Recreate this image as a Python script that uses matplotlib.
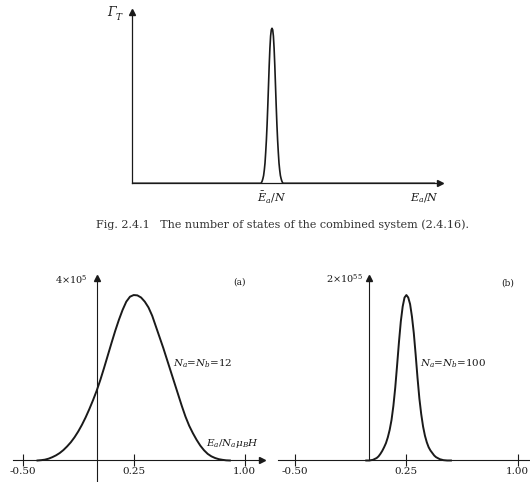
import numpy as np
import matplotlib
matplotlib.use('Agg')
import matplotlib.pyplot as plt

plt.rcParams['font.family'] = 'DejaVu Serif'
plt.rcParams['mathtext.fontset'] = 'dejavuserif'

W, H = 530, 482
ink = '#1a1a1a'

# top panel: sharp peak of Gamma_T, x in arbitrary units (peak at Ea/N)
top_x = [0.00, 0.46, 0.4625, 0.465, 0.4675, 0.47, 0.4725, 0.475, 0.4775,
         0.48, 0.4825, 0.485, 0.4875, 0.49, 0.4925, 0.495, 0.4975, 0.50,
         0.5025, 0.505, 0.5075, 0.51, 0.5125, 0.515, 0.5175, 0.52, 0.5225,
         0.525, 0.5275, 0.53, 0.5325, 0.535, 0.5375, 0.54, 1.08]
top_y = [0.0, 0.0, 0.005, 0.015, 0.03, 0.05, 0.085, 0.13, 0.20,
         0.28, 0.38, 0.50, 0.63, 0.76, 0.87, 0.95, 0.99, 1.0,
         0.99, 0.95, 0.87, 0.76, 0.63, 0.50, 0.38, 0.28, 0.20,
         0.13, 0.085, 0.05, 0.03, 0.015, 0.005, 0.0, 0.0]

# (a) Na = Nb = 12, relative to peak 4x10^5
a_x = [-0.400, -0.375, -0.350, -0.325, -0.300, -0.275, -0.250, -0.225,
       -0.200, -0.175, -0.150, -0.125, -0.100, -0.075, -0.050, -0.025,
       0.000, 0.025, 0.050, 0.075, 0.100, 0.125, 0.150, 0.175, 0.200,
       0.225, 0.250, 0.275, 0.300, 0.325, 0.350, 0.375, 0.400, 0.425,
       0.450, 0.475, 0.500, 0.525, 0.550, 0.575, 0.600, 0.625, 0.650,
       0.675, 0.700, 0.725, 0.750, 0.775, 0.800, 0.825, 0.850, 0.875, 0.900]
a_y = [0.000, 0.002, 0.005, 0.011, 0.020, 0.031, 0.045, 0.063,
       0.085, 0.110, 0.140, 0.175, 0.215, 0.260, 0.310, 0.364,
       0.422, 0.488, 0.560, 0.635, 0.710, 0.783, 0.850, 0.910, 0.960,
       0.990, 1.000, 0.998, 0.985, 0.960, 0.925, 0.875, 0.810, 0.745,
       0.680, 0.610, 0.540, 0.470, 0.400, 0.330, 0.265, 0.210, 0.165,
       0.125, 0.090, 0.062, 0.040, 0.025, 0.015, 0.008, 0.004, 0.001, 0.000]

# (b) Na = Nb = 100, relative to peak 2x10^55
b_x = [-0.02, 0.0000, 0.0250, 0.0500, 0.0625, 0.0750, 0.0875, 0.1000, 0.1125,
       0.1250, 0.1375, 0.1500, 0.1625, 0.1750, 0.1875, 0.2000, 0.2125,
       0.2250, 0.2375, 0.2500, 0.2625, 0.2750, 0.2875, 0.3000, 0.3125,
       0.3250, 0.3375, 0.3500, 0.3625, 0.3750, 0.3875, 0.4000, 0.4125,
       0.4250, 0.4375, 0.4500, 0.4750, 0.5000, 0.5250, 0.55]
b_y = [0.0, 0.000, 0.004, 0.015, 0.025, 0.040, 0.058, 0.080, 0.105,
       0.140, 0.185, 0.245, 0.330, 0.440, 0.575, 0.715, 0.840,
       0.930, 0.985, 1.000, 0.985, 0.945, 0.870, 0.770, 0.640,
       0.500, 0.375, 0.280, 0.205, 0.150, 0.110, 0.080, 0.060,
       0.045, 0.030, 0.020, 0.008, 0.002, 0.000, 0.0]

xticks = [-0.5, 0.25, 1.0]
xticklabels = ['-0.50', '0.25', '1.00']


def box(x0, x1, ytop, ybot):
    return [x0 / W, 1 - ybot / H, (x1 - x0) / W, (ybot - ytop) / H]


fig = plt.figure(figsize=(5.3, 4.82), dpi=100)

# ---- top panel ----
ax = fig.add_axes(box(132, 440, 11.7, 183.3))
ax.plot(top_x, top_y, color=ink, lw=1.2, solid_joinstyle='round')
ax.set_xlim(0, 1.1)
ax.set_ylim(0, 1.107)
for s in ['top', 'right']:
    ax.spines[s].set_visible(False)
for s in ['left', 'bottom']:
    ax.spines[s].set_color(ink)
    ax.spines[s].set_linewidth(0.9)
ax.set_xticks([])
ax.set_yticks([])
ax.plot(1, 0, '>', color=ink, ms=4, transform=ax.transAxes, clip_on=False)
ax.plot(0, 1, '^', color=ink, ms=4, transform=ax.transAxes, clip_on=False)
fig.text(112 / W, 1 - 13 / H, 'Γ', style='italic', ha='center', va='center',
         fontsize=9, color=ink)
fig.text(119 / W, 1 - 18 / H, 'T', style='italic', ha='center', va='center',
         fontsize=6.5, color=ink)
fig.text(272 / W, 1 - 197 / H, r'$\bar{E}_a/N$', ha='center', va='center',
         fontsize=8, color=ink)
fig.text(425 / W, 1 - 198 / H, r'$E_a/N$', ha='center', va='center',
         fontsize=8, color=ink)
fig.text(282 / W, 1 - 225 / H,
         'Fig. 2.4.1   The number of states of the combined system (2.4.16).',
         ha='center', va='center', fontsize=8, color='#333333')


def lower(x0, x1, xlo, xhi, xs, ys, full_y):
    ax = fig.add_axes(box(x0, x1, 278, 482))
    ax.plot(xs, ys, color=ink, lw=1.4, solid_joinstyle='round')
    ax.set_xlim(xlo, xhi)
    ax.set_ylim(-0.13, 1.103)
    for s in ['top', 'right']:
        ax.spines[s].set_visible(False)
    ax.spines['left'].set_position(('data', 0))
    ax.spines['bottom'].set_position(('data', 0))
    for s in ['left', 'bottom']:
        ax.spines[s].set_color(ink)
        ax.spines[s].set_linewidth(0.8)
    if not full_y:
        ax.spines['left'].set_bounds(0, 1.103)
    ax.set_yticks([])
    ax.set_xticks(xticks)
    ax.set_xticklabels(xticklabels, fontsize=7.5, color=ink)
    ax.tick_params(axis='x', direction='inout', length=8, width=0.8,
                   color=ink, pad=1)
    ax.plot(0, 1.103, '^', color=ink, ms=4, clip_on=False)
    return ax


axa = lower(13, 262, -0.5655, 1.117, a_x, a_y, True)
axa.plot(1.117, 0, '>', color=ink, ms=4, clip_on=False)
fig.text(88 / W, 1 - 280 / H, r'4$\times$10$^5$', ha='right', va='center',
         fontsize=7, color=ink)
fig.text(240 / W, 1 - 282 / H, '(a)', ha='center', va='center',
         fontsize=6.5, color=ink)
fig.text(173 / W, 1 - 364 / H, r'$N_a$=$N_b$=12', ha='left', va='center',
         fontsize=7.5, color=ink)
fig.text(259 / W, 1 - 443 / H, r'$E_a/N_a\mu_BH$', ha='right', va='center',
         fontsize=7.5, color=ink)

axb = lower(278, 530, -0.6145, 1.0825, b_x, b_y, False)
fig.text(363 / W, 1 - 279 / H, r'2$\times$10$^{55}$', ha='right', va='center',
         fontsize=7, color=ink)
fig.text(508 / W, 1 - 283 / H, '(b)', ha='center', va='center',
         fontsize=6.5, color=ink)
fig.text(420 / W, 1 - 364 / H, r'$N_a$=$N_b$=100', ha='left', va='center',
         fontsize=7.5, color=ink)

fig.savefig('out.png', dpi=100)
